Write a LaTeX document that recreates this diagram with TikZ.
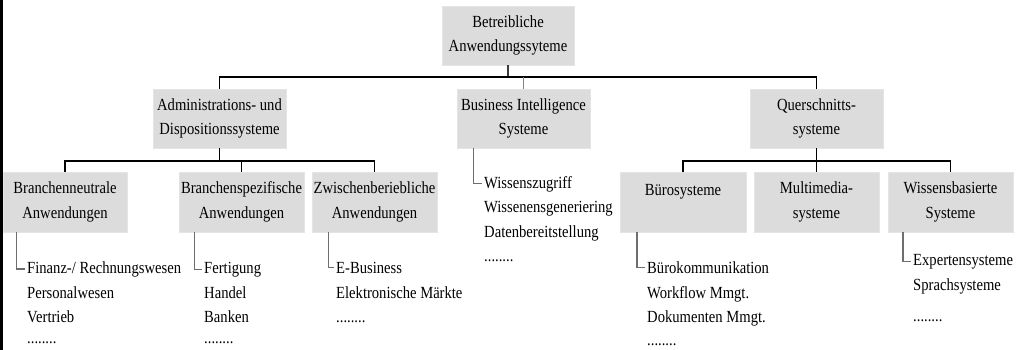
\documentclass[tikz,border=0pt]{standalone}
\usepackage{fontspec}
\setmainfont[FakeStretch=0.86]{Liberation Serif}
\definecolor{boxfill}{RGB}{220,220,220}
\definecolor{boxedge}{RGB}{228,228,228}
\definecolor{stemcol}{RGB}{60,60,60}
\definecolor{bicol}{RGB}{130,130,130}
\definecolor{listcol}{RGB}{110,110,110}
\newcommand{\fsz}{\fontsize{17}{24.5}\selectfont}
\begin{document}
\begin{tikzpicture}[x=1pt,y=-1pt,
  box/.style={fill=boxfill, draw=boxedge, line width=0.6pt, inner sep=0pt, align=center, font=\fsz},
  topbox/.style={box, minimum width=133, minimum height=59},
  subbox/.style={box, minimum width=125, minimum height=60},
  item/.style={anchor=base west, inner xsep=2pt, inner ysep=0pt, font=\fsz},
  tree/.style={black, line width=1.2pt},
  stem/.style={stemcol, line width=1.2pt},
  bistem/.style={bicol, line width=1.4pt},
  listline/.style={listcol, line width=1.2pt}]
\useasboundingbox (0,0) rectangle (1016,350);
\fill[black] (0,0) rectangle (2.5,350);

% level 1
\node[topbox, minimum width=132] (root) at (508,35.5) {Betreibliche\\Anwendungssyteme};
% level 2
\node[topbox] (admin) at (219.5,118.5) {Administrations- und\\Dispositionssysteme};
\node[topbox] (bi) at (523.5,118.5) {Business Intelligence\\Systeme};
\node[topbox] (quer) at (816.5,118.5) {Querschnitts-\\systeme};
% level 3
\node[subbox, minimum width=124] (bn) at (65,202) {Branchenneutrale\\Anwendungen};
\node[subbox] (bs) at (241.5,202) {Branchenspezifische\\Anwendungen};
\node[subbox] (zw) at (374.5,202) {Zwischenberiebliche\\Anwendungen};
\node[subbox, minimum width=126] (bu) at (683,202) {B\"urosysteme\\\phantom{X}};
\node[subbox] (mm) at (816.5,202) {Multimedia-\\systeme};
\node[subbox] (wb) at (950.5,202) {Wissensbasierte\\Systeme};

% tree connectors
\coordinate (bus) at (0,77);
\draw[stem] (root.south) -- (root.south |- bus);
\draw[tree] (admin.north) -- (admin.north |- bus) -- (quer.north |- bus) -- (quer.north);
\draw[bistem] (bi.north) -- (bi.north |- bus);
\coordinate (sub) at (0,161);
\draw[tree] (admin.south) -- (admin.south |- sub);
\draw[tree] (bn.north) -- (bn.north |- sub) -- (zw.north |- sub) -- (zw.north);
\draw[tree] (bs.north) -- (bs.north |- sub);
\draw[tree] (quer.south) -- (quer.south |- sub);
\draw[tree] (bu.north) -- (bu.north |- sub) -- (wb.north |- sub) -- (wb.north);
\draw[tree] (mm.north) -- (mm.north |- sub);

% lists
\node[item] (bn1) at (25,273) {Finanz-/ Rechnungswesen};
\node[item] at (25,298) {Personalwesen};
\node[item] at (25,322) {Vertrieb};
\node[item] at (25,343.5) {........};

\node[item] (bs1) at (202,273) {Fertigung};
\node[item] at (202,298) {Handel};
\node[item] at (202,322) {Banken};
\node[item] at (202,343.5) {........};

\node[item] (zw1) at (334,273) {E-Business};
\node[item] at (334,298) {Elektronische M\"arkte};
\node[item] at (334,322) {........};

\node[item] (bi1) at (482,188) {Wissenszugriff};
\node[item] at (482,212.5) {Wissenensgeneriering};
\node[item] at (482,237) {Datenbereitstellung};
\node[item] at (482,261.5) {........};

\node[item] (bu1) at (645,273) {B\"urokommunikation};
\node[item] at (645,298) {Workflow Mmgt.};
\node[item] at (645,322) {Dokumenten Mmgt.};
\node[item] at (645,345) {........};

\node[item] (wb1) at (911,265.5) {Expertensysteme};
\node[item] at (911,290) {Sprachsysteme};
\node[item] at (911,321.5) {........};

\coordinate (xbn) at (16.7,0);
\coordinate (xbs) at (194.3,0);
\coordinate (xzw) at (328.3,0);
\coordinate (xbi) at (473.3,0);
\coordinate (xbu) at (637,0);
\coordinate (xwb) at (903,0);
\draw[listline] (bn.south -| xbn) |- (bn1.west);
\draw[listline] (bs.south -| xbs) |- (bs1.west);
\draw[listline] (zw.south -| xzw) |- (zw1.west);
\draw[listline] (bi.south -| xbi) |- (bi1.west);
\draw[listline] (bu.south -| xbu) |- (bu1.west);
\draw[listline] (wb.south -| xwb) |- (wb1.west);
\end{tikzpicture}
\end{document}
